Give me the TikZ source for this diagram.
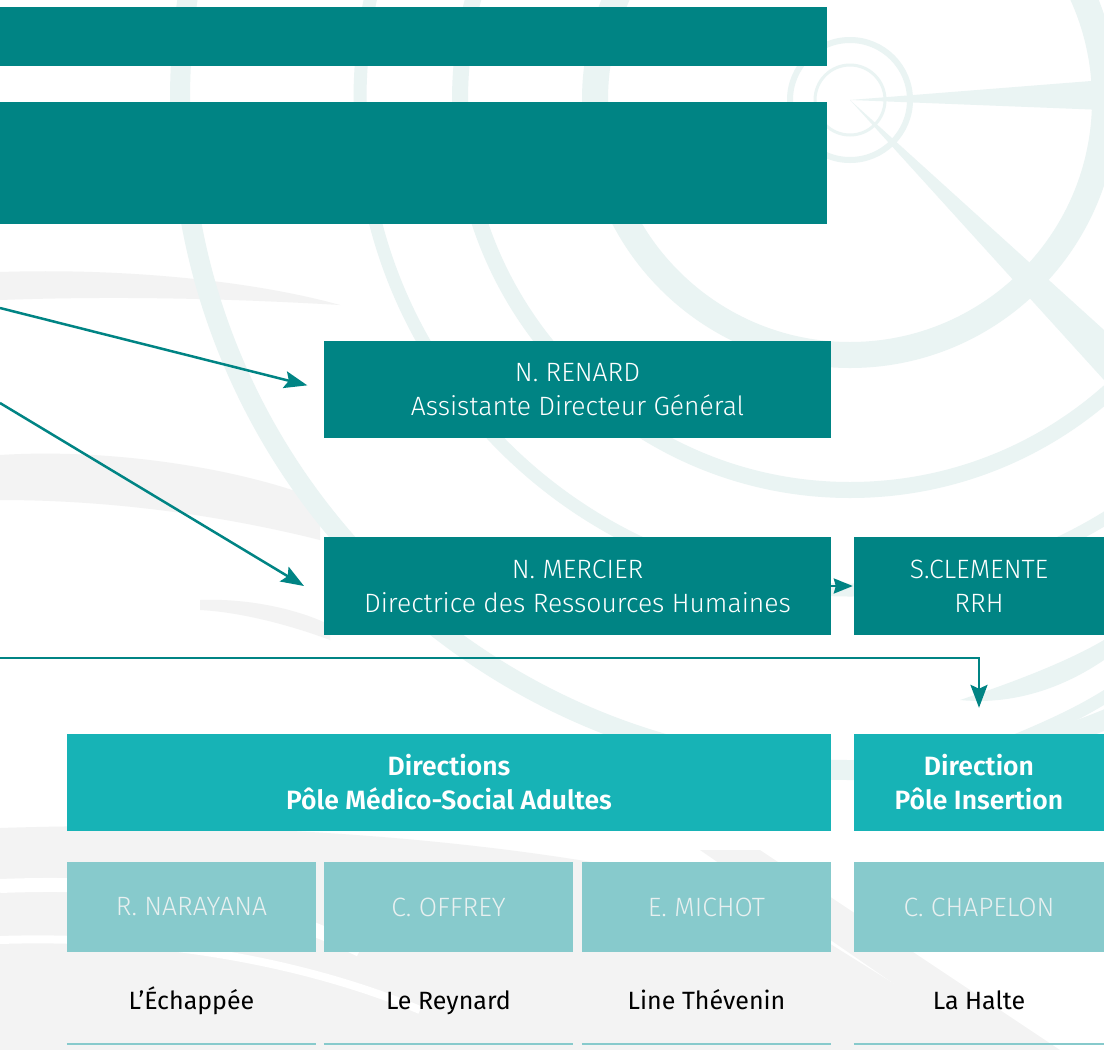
\documentclass[tikz,border=0pt]{standalone}
\usepackage{fontspec}
\setmainfont{Fira Sans}[UprightFont={* Light}, BoldFont={* SemiBold}]
\newfontfamily\regfont{Fira Sans}
\usetikzlibrary{arrows.meta,calc}
\definecolor{dteal}{HTML}{008484}
\definecolor{mteal}{HTML}{17B3B6}
\definecolor{lteal}{HTML}{87CACC}
\definecolor{ltxt}{HTML}{E8F0F0}
\definecolor{bgteal}{HTML}{EAF4F3}
\definecolor{bggray}{HTML}{F3F3F3}
\begin{document}
\begin{tikzpicture}[x=1pt,y=-1pt,
  boxbase/.style={inner sep=0pt, align=center, font=\fontsize{26.5}{34}\selectfont},
  darkbox/.style={boxbase, fill=dteal, text=white},
  midbox/.style={boxbase, fill=mteal, text=white, font=\fontsize{26.5}{34}\selectfont\bfseries},
  lightbox/.style={boxbase, fill=lteal, text=ltxt, minimum height=90pt},
  bar/.style={fill=dteal, inner sep=0pt, minimum width=827pt},
  lbl/.style={inner sep=0pt, anchor=base, text=black, font=\regfont\fontsize{25}{30}\selectfont},
  rule/.style={draw=lteal, line width=2pt},
  arr/.style={draw=dteal, line width=2.5pt, -{Stealth[length=23pt,width=17pt,inset=4pt]}},
  shortarr/.style={draw=dteal, line width=2.5pt, -{Stealth[length=19pt,width=15pt,inset=2pt]}}]
\useasboundingbox (0,0) rectangle (1104,1050);
\fill[white] (0,0) rectangle (1104,1050);
% ---------- background decoration ----------
\begin{scope}
\clip (0,0) rectangle (1104,1050);
\fill[bggray] (0,272) .. controls (120,268) and (250,280) .. (340,305) .. controls (220,298) and (110,296) .. (0,300) -- cycle;
\fill[bggray] (0,455) .. controls (110,448) and (240,468) .. (320,500) -- (320,540) .. controls (220,515) and (110,500) .. (0,500) -- cycle;
\fill[bggray] (200,600) .. controls (250,598) and (300,610) .. (330,625) -- (330,640) .. controls (290,625) and (240,612) .. (200,610) -- cycle;
\fill[bggray] (0,828) .. controls (300,818) and (600,850) .. (760,900) -- (1000,1050) -- (0,1050) -- cycle;
\draw[white, line width=14pt] (0,886) .. controls (150,880) and (260,900) .. (360,950);
\draw[white, line width=8pt] (0,940) .. controls (150,935) and (300,960) .. (420,1010);
\fill[bggray] (700,850) -- (760,850) -- (1060,1050) -- (990,1050) -- cycle;
\draw[bgteal, line width=20pt] (850,100) circle[radius=670pt];
\draw[bgteal, line width=13pt] (850,100) circle[radius=490pt];
\draw[bgteal, line width=26pt] (850,100) circle[radius=255pt];
\draw[bgteal, line width=16pt] (850,100) circle[radius=390pt];
\draw[bgteal, line width=6pt] (850,100) circle[radius=60pt];
\draw[bgteal, line width=3pt] (850,100) circle[radius=35pt];
\fill[bgteal] (850,100) -- (1104,80) -- (1104,110) -- cycle;
\fill[bgteal] (850,100) -- (1104,330) -- (1104,380) -- cycle;
\fill[bgteal] (960,700) .. controls (1020,680) and (1070,660) .. (1104,640) -- (1104,660) .. controls (1060,690) and (1010,705) .. (960,700) -- cycle;
\fill[bgteal] (1000,740) .. controls (1050,720) and (1080,705) .. (1104,690) -- (1104,705) .. controls (1070,725) and (1040,740) .. (1000,740) -- cycle;
\end{scope}
% ---------- title bars ----------
\node[bar, minimum height=59pt] (bar1) at (413.5,36.5) {};
\node[bar, minimum height=122pt] (bar2) at (413.5,163) {};
% ---------- staff ----------
\node[darkbox, minimum width=507pt, minimum height=97pt] (renard) at (577.5,389.5) {N. RENARD\\Assistante Directeur Général};
\node[darkbox, minimum width=507pt, minimum height=98pt] (mercier) at (577.5,586) {N. MERCIER\\Directrice des Ressources Humaines};
\node[darkbox, minimum width=250pt, minimum height=98pt] (clemente) at (979,586) {S.CLEMENTE\\RRH};
% ---------- directions ----------
\node[midbox, minimum width=764pt, minimum height=97pt] (pmsa) at (449,782.5) {Directions\\Pôle Médico-Social Adultes};
\node[midbox, minimum width=250pt, minimum height=97pt] (insertion) at (979,782.5) {Direction\\Pôle Insertion};
% ---------- heads ----------
\node[lightbox, minimum width=249pt] (narayana) at (191.5,907) {R. NARAYANA};
\node[lightbox, minimum width=249pt] (offrey) at (448.5,907) {C. OFFREY};
\node[lightbox, minimum width=249pt] (michot) at (706.5,907) {E. MICHOT};
\node[lightbox, minimum width=250pt] (chapelon) at (979,907) {C. CHAPELON};
% ---------- establishments ----------
\node[lbl] (echappee) at (191.5,1009) {L’Échappée};
\node[lbl] (reynard) at (448.5,1009) {Le Reynard};
\node[lbl] (thevenin) at (706.5,1009) {Line Thévenin};
\node[lbl] (halte) at (979,1009) {La Halte};
\draw[rule] (narayana.west |- 0,1044) -- (narayana.east |- 0,1044);
\draw[rule] (offrey.west |- 0,1044) -- (offrey.east |- 0,1044);
\draw[rule] (michot.west |- 0,1044) -- (michot.east |- 0,1044);
\draw[rule] (chapelon.west |- 0,1044) -- (chapelon.east |- 0,1044);
% ---------- connectors ----------
\coordinate (s1) at (0,308);
\coordinate (s2) at (0,403);
\coordinate (t2) at (304,586);
\coordinate (s3) at (0,658);
\draw[arr, shorten >=17pt] (s1) -- (renard.west);
\draw[arr] (s2) -- (t2);
\draw[shortarr] (mercier.east) -- ([xshift=-1pt]clemente.west);
\draw[arr] (s3) -| ($(insertion.north)+(0,-26)$);
\end{tikzpicture}
\end{document}
